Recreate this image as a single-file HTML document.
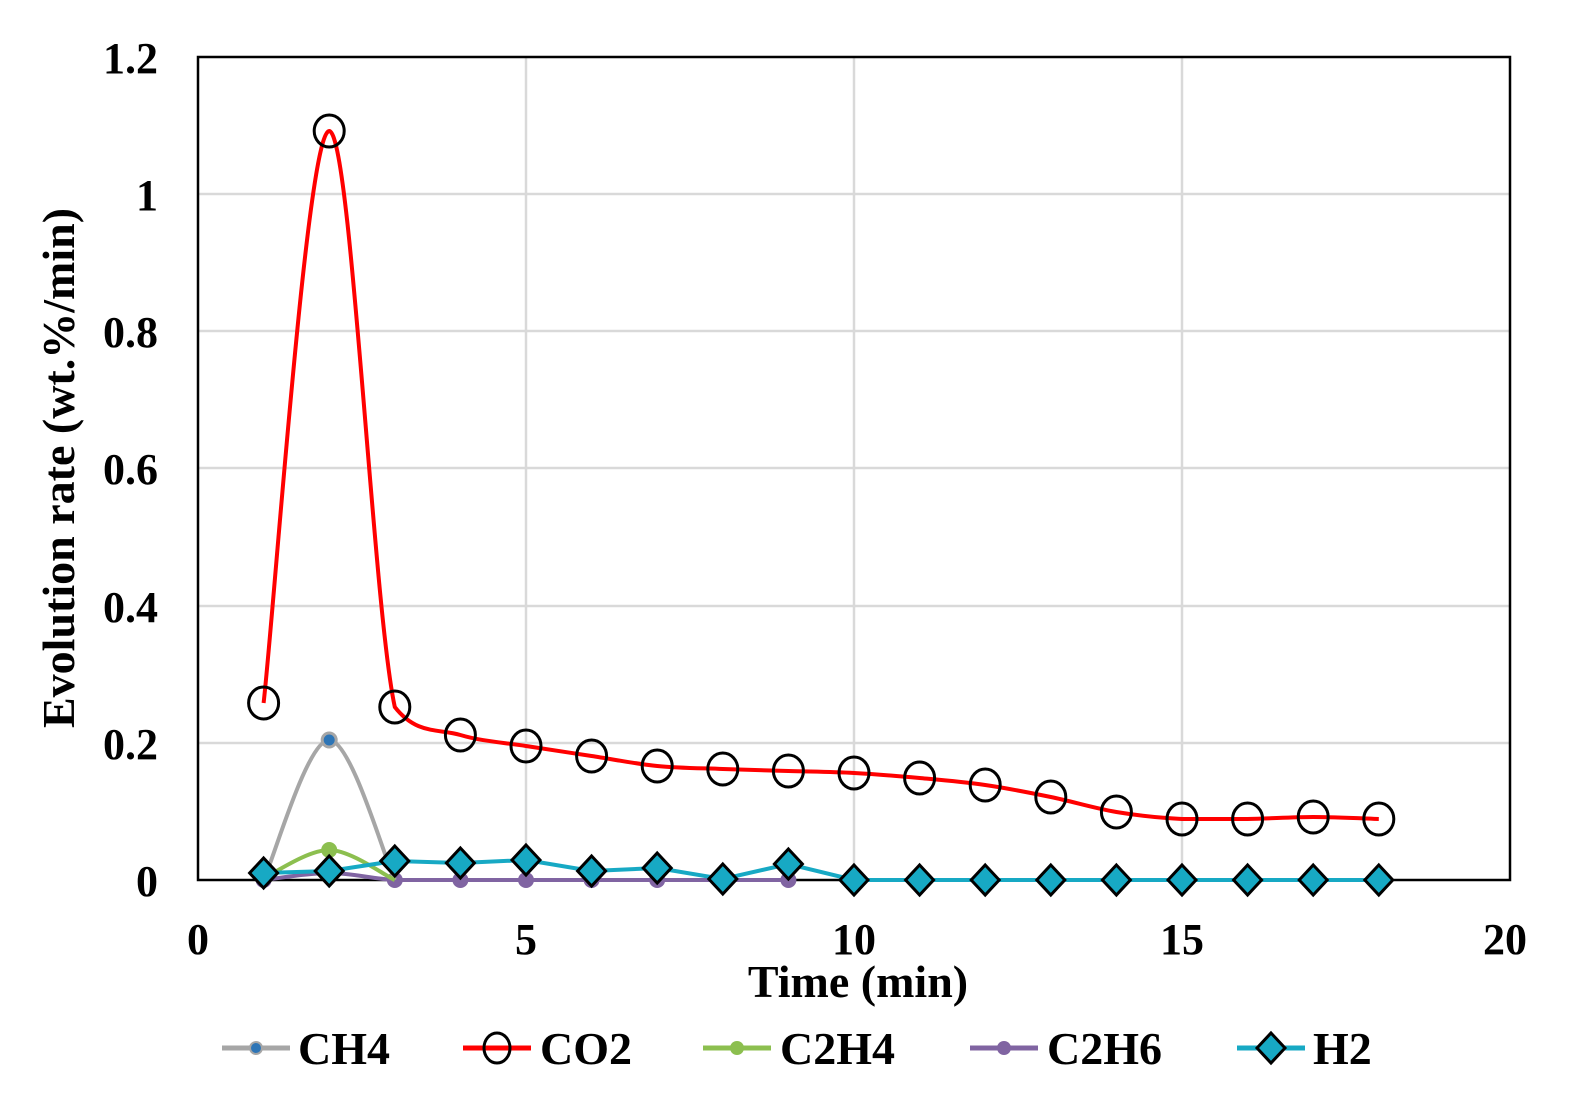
<!DOCTYPE html>
<html><head><meta charset="utf-8"><style>
body{margin:0;background:#fff;}
svg{display:block;font-family:"Liberation Serif",serif;font-weight:bold;}
</style></head><body>
<svg id="s" width="1595" height="1117" viewBox="0 0 1595 1117" xmlns="http://www.w3.org/2000/svg">
<g stroke="#d9d9d9" stroke-width="2.5">
<line x1="526" y1="57" x2="526" y2="880"/><line x1="854" y1="57" x2="854" y2="880"/><line x1="1182" y1="57" x2="1182" y2="880"/>
<line x1="198" y1="194" x2="1510" y2="194"/><line x1="198" y1="331" x2="1510" y2="331"/><line x1="198" y1="468" x2="1510" y2="468"/><line x1="198" y1="606" x2="1510" y2="606"/><line x1="198" y1="743" x2="1510" y2="743"/>
</g>
<rect x="198" y="57" width="1312" height="823" fill="none" stroke="#000" stroke-width="2.5"/>
<g font-size="44" text-anchor="end">
<text x="158" y="73">1.2</text><text x="158" y="210">1</text><text x="158" y="347">0.8</text><text x="158" y="484">0.6</text><text x="158" y="622">0.4</text><text x="158" y="759">0.2</text><text x="158" y="896">0</text>
</g>
<g font-size="44" text-anchor="middle">
<text x="198" y="954">0</text><text x="526" y="954">5</text><text x="854" y="954">10</text><text x="1182" y="954">15</text><text x="1505" y="954">20</text>
</g>
<text x="858" y="997" font-size="46" text-anchor="middle">Time (min)</text>
<text transform="translate(74,468) rotate(-90)" font-size="46" text-anchor="middle">Evolution rate (wt.%/min)</text>
<g id="g"></g>
<g font-size="46">
<line x1="222" y1="1048" x2="290" y2="1048" stroke="#a6a6a6" stroke-width="5"/><circle cx="256" cy="1048" r="6" fill="#2e75b6" stroke="#a6a6a6" stroke-width="2"/><text x="298" y="1064">CH4</text>
<line x1="463" y1="1048" x2="531" y2="1048" stroke="#f00" stroke-width="5"/><ellipse cx="497" cy="1048" rx="13" ry="15" fill="none" stroke="#000" stroke-width="3"/><text x="540" y="1064">CO2</text>
<line x1="703" y1="1048" x2="771" y2="1048" stroke="#8cbf4f" stroke-width="5"/><circle cx="737" cy="1048" r="7" fill="#8cbf4f"/><text x="780" y="1064">C2H4</text>
<line x1="970" y1="1048" x2="1038" y2="1048" stroke="#8064a2" stroke-width="5"/><circle cx="1004" cy="1048" r="7" fill="#8064a2"/><text x="1047" y="1064">C2H6</text>
<line x1="1237" y1="1048" x2="1305" y2="1048" stroke="#17a9c4" stroke-width="5"/><path d="M1271 1033 L1285 1048 L1271 1063 L1257 1048Z" fill="#17a9c4" stroke="#000" stroke-width="3"/><text x="1313" y="1064">H2</text>
</g>
</svg>
<script>
var X=function(t){return 198+65.6*t};
function cl(v,a,b){var lo=Math.min(a,b),hi=Math.max(a,b);return Math.max(lo,Math.min(hi,v));}
function path(pts){var d="M"+pts[0][0]+" "+pts[0][1];for(var i=0;i<pts.length-1;i++){var p0=pts[i-1]||pts[i],p1=pts[i],p2=pts[i+1],p3=pts[i+2]||p2;var k=6;
var c1y=cl(p1[1]+(p2[1]-p0[1])/k,p1[1],p2[1]),c2y=cl(p2[1]-(p3[1]-p1[1])/k,p1[1],p2[1]);
if(i==0){c1y=p1[1]+(p2[1]-p0[1])/k;}
d+=" C"+(p1[0]+(p2[0]-p0[0])/k)+" "+c1y+" "+(p2[0]-(p3[0]-p1[0])/k)+" "+c2y+" "+p2[0]+" "+p2[1];}return d;}
var g=document.getElementById("g"),h="";
var co2=[703,131,707,735,746,756,766,769,771,773,778,785,797,812,819,819,817,819];
var h2=[873,871,861,863,860,871,868,879,864,880,880,880,880,880,880,880,880,880];
var ch4=[880,740,880],c2h4=[878,850,880],c2h6=[880,873,880,880,880,880,880,880,880];
function P(a,o){o=o||1;return a.map(function(v,i){return [X(i+o),v]})}
h+='<path d="'+path(P(c2h6))+'" fill="none" stroke="#8064a2" stroke-width="4"/>';
P(c2h6).forEach(function(p){h+='<circle cx="'+p[0]+'" cy="'+p[1]+'" r="8" fill="#8064a2"/>'});
h+='<path d="'+path(P(ch4))+'" fill="none" stroke="#a6a6a6" stroke-width="4"/>';
h+='<circle cx="'+X(2)+'" cy="740" r="7" fill="#2e75b6" stroke="#a6a6a6" stroke-width="3"/>';
h+='<path d="'+path(P(c2h4))+'" fill="none" stroke="#8cbf4f" stroke-width="4"/>';
h+='<circle cx="'+X(2)+'" cy="850" r="8" fill="#8cbf4f"/>';
h+='<path d="'+path(P(co2))+'" fill="none" stroke="#f00" stroke-width="4"/>';
P(co2).forEach(function(p){h+='<ellipse cx="'+p[0]+'" cy="'+p[1]+'" rx="15" ry="16" fill="none" stroke="#000" stroke-width="3"/>'});
var hp=P(h2);h+='<polyline points="'+hp.map(function(p){return p.join(",")}).join(" ")+'" fill="none" stroke="#17a9c4" stroke-width="4"/>';
hp.forEach(function(p){h+='<path d="M'+p[0]+' '+(p[1]-15)+' L'+(p[0]+14)+' '+p[1]+' L'+p[0]+' '+(p[1]+15)+' L'+(p[0]-14)+' '+p[1]+'Z" fill="#17a9c4" stroke="#000" stroke-width="3"/>'});
g.innerHTML=h;
</script>
</body></html>
